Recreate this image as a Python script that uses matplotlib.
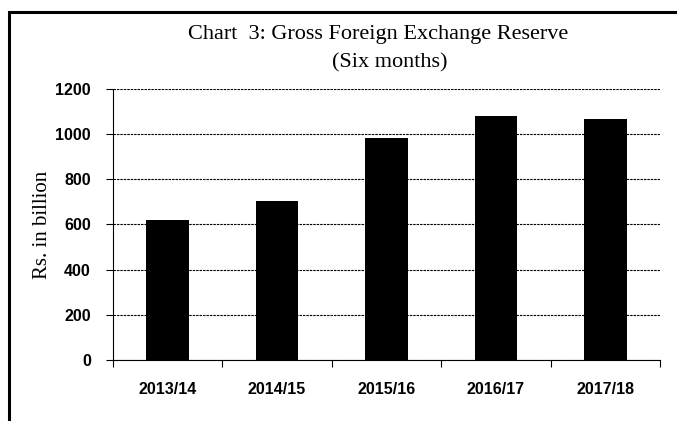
import matplotlib
matplotlib.use("Agg")
import matplotlib.pyplot as plt
from matplotlib.patches import Rectangle

# Data
years = ["2013/14", "2014/15", "2015/16", "2016/17", "2017/18"]
reserve = [622, 703, 982, 1082, 1068]
yticks = [0, 200, 400, 600, 800, 1000, 1200]

fig = plt.figure(figsize=(6.77, 4.21), dpi=100)
ax = fig.add_axes([113 / 677, 1 - 360 / 421, (660 - 113) / 677, (360 - 89) / 421])

# outer frame, cut off at right and bottom like the original
frame = Rectangle((9 / 677, -0.1), 1.2, 1 - 12 / 421 + 0.1, transform=fig.transFigure,
                  fill=False, edgecolor="black", linewidth=2.2, clip_on=False)
fig.patches.append(frame)

x = range(len(years))
ax.bar(x, reserve, width=0.39, color="black", zorder=3)

ax.set_xlim(-0.5, len(years) - 0.5)
ax.set_ylim(0, 1200)
ax.set_yticks(yticks)
ax.set_xticks(list(x))
ax.set_xticklabels(years)

# category boundary ticks on x axis
ax.set_xticks([i - 0.5 for i in range(len(years) + 1)], minor=True)
ax.tick_params(axis="x", which="major", length=0, pad=16)
ax.tick_params(axis="x", which="minor", length=5, width=0.8, direction="out")
ax.tick_params(axis="y", length=5, width=0.8, pad=11)

for lab in ax.get_xticklabels() + ax.get_yticklabels():
    lab.set_fontfamily("Liberation Sans")
    lab.set_fontweight("bold")
    lab.set_fontsize(11.5)

ax.yaxis.grid(True, color="black", linestyle=(0, (2.2, 0.9)), linewidth=0.8, zorder=0)
ax.set_axisbelow(True)

for side in ["top", "right"]:
    ax.spines[side].set_visible(False)
ax.spines["left"].set_linewidth(0.8)
ax.spines["bottom"].set_linewidth(0.8)

ax.set_ylabel("Rs. in billion", family="Liberation Serif", fontsize=15, labelpad=2)

fig.text(378 / 677, 1 - 34 / 421, "Chart  3: Gross Foreign Exchange Reserve",
         family="Liberation Serif", fontsize=16, ha="center", va="center")
fig.text(390 / 677, 1 - 63 / 421, "(Six months)",
         family="Liberation Serif", fontsize=16, ha="center", va="center")

fig.savefig("out.png", dpi=100)
